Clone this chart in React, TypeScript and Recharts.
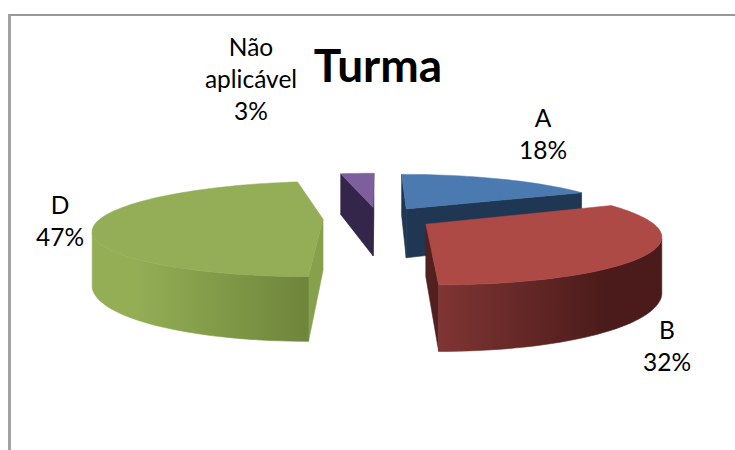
import React from 'react';
import { PieChart, Pie } from 'recharts';

const categories = ['A', 'B', 'D', 'Não aplicável'];
const shares = [18, 32, 47, 3];

// top face, radial cut and the two ends of the rim shading
const topColors = ['#4a7ab0', '#ae4a46', '#93ae56', '#7d5f9d'];
const cutColors = ['#1f3752', '#52201e', '#87a04c', '#33264a'];
const rimFrom = ['#2c4a6e', '#7f3533', '#93ae55', '#4a3a63'];
const rimTo = ['#1f3752', '#4a1b1a', '#6e853b', '#33264a'];

const labelSpots = [
  { x: 543, y: 108 },
  { x: 667, y: 320 },
  { x: 60, y: 195 },
  { x: 251, y: 37 },
];

const FONT = 'Lato, sans-serif';
const CAMERA = 1072; // distance to the eye, same unit as the radius
const THICKNESS = 51;
const EXPLODE = 55;

const data = categories.map((name, i) => ({ name, value: shares[i] }));

// turns a point of the pie plane into screen coordinates
const project = (cx: number, cy: number, u: number, v: number, z: number) => {
  const k = 1 / (1 - v / CAMERA);
  return [cx + u * k, (cy + z) * k];
};

const toPath = (pts: number[][]) =>
  'M' + pts.map((p) => `${p[0].toFixed(1)} ${p[1].toFixed(1)}`).join('L') + 'Z';

const Slice3D = (props: any) => {
  const { cx, cy, outerRadius, startAngle, endAngle, index } = props;
  // recharts angles to clockwise from 12 o'clock, in radians
  const from = ((90 - startAngle) * Math.PI) / 180;
  const to = ((90 - endAngle) * Math.PI) / 180;
  const mid = (from + to) / 2;
  const ou = EXPLODE * Math.sin(mid);
  const ov = -EXPLODE * Math.cos(mid);

  const rimAt = (t: number) => [ou + outerRadius * Math.sin(t), ov - outerRadius * Math.cos(t)];
  const steps = Math.max(2, Math.ceil(((to - from) * 180) / Math.PI / 2));
  const angles: number[] = [];
  for (let i = 0; i <= steps; i++) angles.push(from + ((to - from) * i) / steps);

  const top = (p: number[]) => project(cx, cy, p[0], p[1], 0);
  const bottom = (p: number[]) => project(cx, cy, p[0], p[1], THICKNESS);

  const apex = [ou, ov];
  const facing = (nu: number, nv: number, p: number[]) =>
    nu * (0 - p[0]) + nv * (CAMERA - p[1]) > 0;

  const rim = angles.filter((t) => {
    const p = rimAt(t);
    return facing(Math.sin(t), -Math.cos(t), p);
  });
  const rimPts = rim.map(rimAt);

  const wall = (p: number[]) => [top(apex), top(p), bottom(p), bottom(apex)];
  const gradId = `rim-${index}`;

  return (
    <g>
      <defs>
        <linearGradient id={gradId} x1="0" y1="0" x2="1" y2="0">
          <stop offset={index === 2 ? '0.2' : '0'} stopColor={rimFrom[index]} />
          <stop offset={index === 1 ? '0.75' : '1'} stopColor={rimTo[index]} />
        </linearGradient>
      </defs>
      {facing(-Math.cos(from), -Math.sin(from), apex) && (
        <path d={toPath(wall(rimAt(from)))} fill={cutColors[index]} stroke={cutColors[index]} strokeWidth={0.6} />
      )}
      {facing(Math.cos(to), Math.sin(to), apex) && (
        <path d={toPath(wall(rimAt(to)))} fill={cutColors[index]} stroke={cutColors[index]} strokeWidth={0.6} />
      )}
      {rimPts.length > 1 && (
        <path
          d={toPath([...rimPts.map(top), ...rimPts.map(bottom).reverse()])}
          fill={`url(#${gradId})`}
          stroke={`url(#${gradId})`}
          strokeWidth={0.6}
        />
      )}
      <path
        d={toPath([top(apex), ...angles.map((t) => top(rimAt(t)))])}
        fill={topColors[index]}
        stroke={topColors[index]}
        strokeWidth={0.5}
      />
    </g>
  );
};

const SliceLabel = (props: any) => {
  const { index, name, value } = props;
  const spot = labelSpots[index];
  const lines = [...String(name).split(' '), `${value}%`];
  return (
    <text
      x={spot.x}
      y={spot.y}
      textAnchor="middle"
      fontFamily={FONT}
      fontSize={24.5}
      fill="#000"
      dominantBaseline="hanging"
    >
      {lines.map((line, i) => (
        <tspan key={i} x={spot.x} dy={i === 0 ? 0 : 32}>
          {line}
        </tspan>
      ))}
    </text>
  );
};

export default function App() {
  return (
    <div style={{ position: 'absolute', left: 0, top: 0, width: 735, height: 450, background: '#fff', overflow: 'hidden' }}>
      <div
        style={{
          position: 'absolute',
          left: 8,
          top: 14,
          width: 727,
          height: 436,
          borderTop: '2px solid #999',
          borderLeft: '3px solid #a3a3a3',
        }}
      />
      <div style={{ position: 'absolute', left: 0, top: 0 }}>
        <PieChart width={735} height={450} margin={{ top: 0, right: 0, bottom: 0, left: 0 }}>
          <text x={378} y={82} textAnchor="middle" fontFamily={FONT} fontWeight={700} fontSize={46} fill="#000">
            Turma
          </text>
          <Pie
            data={data}
            dataKey="value"
            nameKey="name"
            cx={378}
            cy={218}
            outerRadius={222}
            startAngle={90}
            endAngle={-270}
            stroke="none"
            shape={Slice3D}
            label={SliceLabel}
            labelLine={false}
            isAnimationActive={false}
          />
        </PieChart>
      </div>
    </div>
  );
}
